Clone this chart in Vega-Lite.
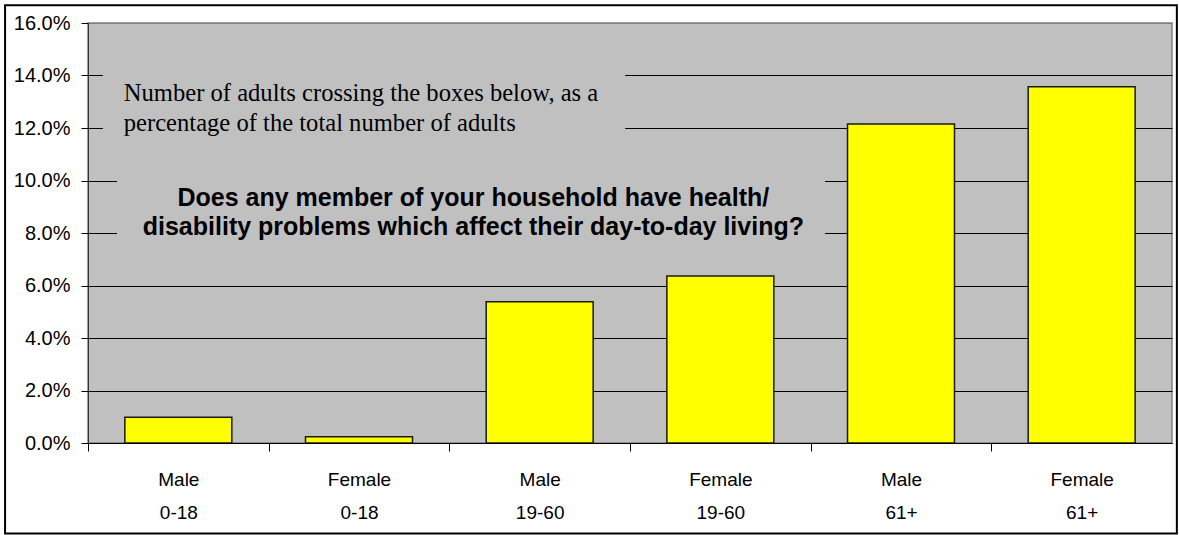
{
  "$schema": "https://vega.github.io/schema/vega-lite/v6.json",
  "width": 1084,
  "height": 420,
  "autosize": {"type": "none"},
  "padding": {"left": 88, "top": 23, "right": 7, "bottom": 92},
  "background": "white",
  "config": {
    "view": {"stroke": "#808080", "strokeWidth": 1.5, "fill": "#C0C0C0"},
    "font": "Liberation Sans"
  },
  "data": {
    "values": [
      {"group": "Male 0-18", "pct": 0.0098},
      {"group": "Female 0-18", "pct": 0.0024},
      {"group": "Male 19-60", "pct": 0.0538},
      {"group": "Female 19-60", "pct": 0.0636},
      {"group": "Male 61+", "pct": 0.1215},
      {"group": "Female 61+", "pct": 0.1357}
    ]
  },
  "layer": [
    {
      "data": {"values": [{}]},
      "mark": {"type": "rect", "fill": "#C0C0C0", "strokeWidth": 0},
      "encoding": {
        "x": {"datum": "Male 0-18", "bandPosition": -0.205},
        "x2": {"datum": "Female 19-60", "bandPosition": -0.39},
        "y": {"datum": 0.148},
        "y2": {"datum": 0.115}
      }
    },
    {
      "data": {"values": [{}]},
      "mark": {"type": "rect", "fill": "#C0C0C0", "strokeWidth": 0},
      "encoding": {
        "x": {"datum": "Male 0-18", "bandPosition": -0.073},
        "x2": {"datum": "Male 61+", "bandPosition": -0.211},
        "y": {"datum": 0.106},
        "y2": {"datum": 0.076}
      }
    },
    {
      "mark": {"type": "bar", "fill": "#FFFF00", "stroke": "#1a1a1a", "strokeWidth": 1.5},
      "encoding": {
        "x": {
          "field": "group",
          "type": "nominal",
          "sort": null,
          "scale": {
            "domain": ["Male 0-18", "Female 0-18", "Male 19-60", "Female 19-60", "Male 61+", "Female 61+"],
            "paddingInner": 0.408,
            "paddingOuter": 0.204
          },
          "axis": {
            "title": null,
            "labelAngle": 0,
            "labelAlign": "center",
            "tickOffset": -90.33,
            "labelOffset": 90.33,
            "tickSize": 8,
            "tickColor": "black",
            "domainColor": "black",
            "labelExpr": "split(datum.value, ' ')",
            "labelFontSize": 19,
            "labelLineHeight": 33,
            "labelPadding": 28,
            "labelColor": "black",
            "labelFont": "Liberation Sans",
            "grid": false
          }
        },
        "y": {
          "field": "pct",
          "type": "quantitative",
          "scale": {"domain": [0, 0.16]},
          "axis": {
            "title": null,
            "format": ".1%",
            "values": [0, 0.02, 0.04, 0.06, 0.08, 0.1, 0.12, 0.14, 0.16],
            "grid": true,
            "gridColor": {"condition": {"test": "datum.value >= 0.159", "value": "#808080"}, "value": "black"},
            "gridOpacity": 1,
            "domainColor": "#333333",
            "tickColor": "black",
            "tickSize": 7,
            "labelFontSize": 20,
            "labelPadding": 11,
            "labelColor": "black",
            "labelFont": "Liberation Sans"
          }
        }
      }
    },
    {
      "data": {"values": [{}]},
      "mark": {
        "type": "text",
        "align": "left",
        "baseline": "alphabetic",
        "font": "Liberation Serif",
        "fontSize": 24.6,
        "lineHeight": 30,
        "color": "black",
        "text": ["Number of adults crossing the boxes below, as a", "percentage of the total number of adults"]
      },
      "encoding": {
        "x": {"datum": "Male 0-18", "bandPosition": -0.01},
        "y": {"datum": 0.1303}
      }
    },
    {
      "data": {"values": [{}]},
      "mark": {
        "type": "text",
        "align": "center",
        "baseline": "alphabetic",
        "font": "Liberation Sans",
        "fontWeight": "bold",
        "fontSize": 25,
        "lineHeight": 29,
        "color": "black",
        "text": ["Does any member of your household have health/", "disability problems which affect their day-to-day living?"]
      },
      "encoding": {
        "x": {"datum": "Male 19-60", "bandPosition": -0.12},
        "y": {"datum": 0.0903}
      }
    },
    {
      "data": {"values": [{}]},
      "mark": {"type": "rect", "fill": null, "stroke": "black", "strokeWidth": 2, "clip": false},
      "encoding": {
        "x": {"datum": "Male 0-18", "bandPosition": -1.12},
        "x2": {"datum": "Female 61+", "bandPosition": 1.39},
        "y": {"datum": 0.1668},
        "y2": {"datum": -0.0345}
      }
    }
  ]
}
